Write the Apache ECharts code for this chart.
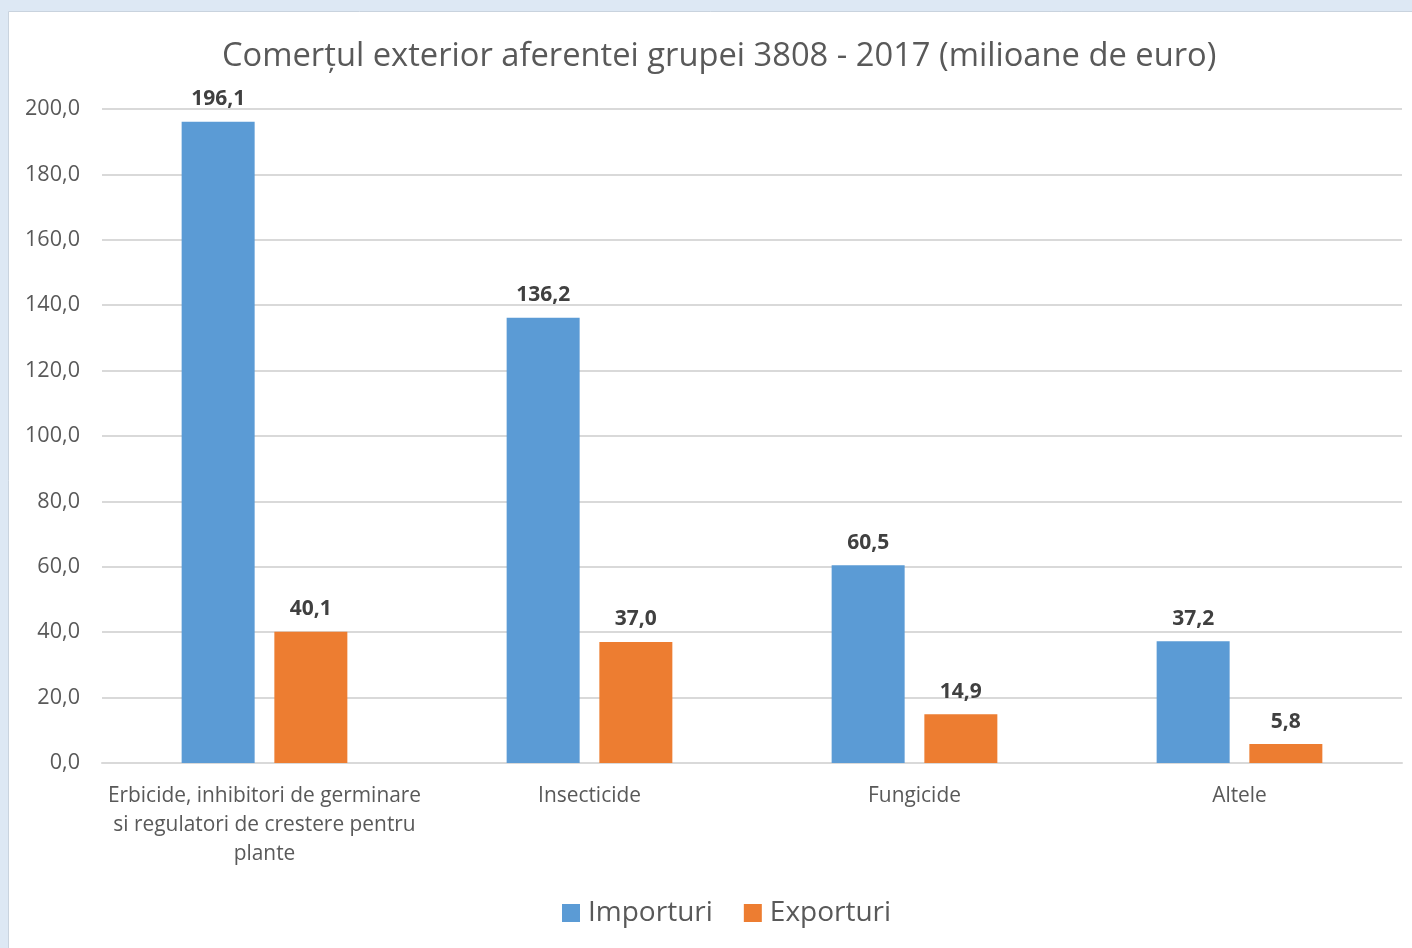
<!DOCTYPE html>
<html>
<head>
<meta charset="utf-8">
<style>
  html, body { margin: 0; padding: 0; background: #dde8f4; }
  #chart { width: 1412px; height: 948px; }
</style>
<script src="https://cdn.jsdelivr.net/npm/echarts@6/dist/echarts.min.js"></script>
</head>
<body>
<div id="chart"></div>
<script>
// chart data
var categories = [
  "Erbicide, inhibitori de germinare\nsi regulatori de crestere pentru\nplante",
  "Insecticide",
  "Fungicide",
  "Altele"
];
var importuri = [196.1, 136.2, 60.5, 37.2];
var exporturi = [40.1, 37.0, 14.9, 5.8];
var seriesNames = ["Importuri", "Exporturi"];
var titleText = "Comerțul exterior aferentei grupei 3808 - 2017 (milioane de euro)";

var fontFam = "'Open Sans', sans-serif";
var textColor = "#595959";

function fmt(v) {
  return Number(v).toFixed(1).replace(".", ",");
}

var chartDom = document.getElementById("chart");
var myChart = echarts.init(chartDom);

var option = {
  backgroundColor: "#dde8f4",
  textStyle: { fontFamily: fontFam },
  graphic: [
    {
      // white chart panel
      type: "rect",
      left: 8,
      top: 11,
      z: -10,
      shape: { width: 1420, height: 950 },
      style: { fill: "#ffffff", stroke: "#c9d3de", lineWidth: 1 }
    }
  ],
  title: {
    text: titleText,
    left: 222,
    top: 40,
    padding: 0,
    textStyle: {
      fontFamily: fontFam,
      fontSize: 32.7,
      fontWeight: "normal",
      color: textColor
    }
  },
  legend: {
    data: seriesNames,
    bottom: 16,
    left: 557,
    itemWidth: 18,
    itemHeight: 18,
    itemGap: 31,
    icon: "rect",
    textStyle: { fontFamily: fontFam, fontSize: 28, color: textColor, padding: [0, 0, 0, 3] }
  },
  grid: {
    left: 102,
    right: 10,
    top: 109,
    bottom: 185,
    containLabel: false
  },
  xAxis: {
    type: "category",
    data: categories,
    axisLine: { lineStyle: { color: "#d9d9d9", width: 2 } },
    axisTick: { show: false },
    axisLabel: {
      interval: 0,
      margin: 19,
      fontFamily: fontFam,
      fontSize: 20.9,
      lineHeight: 29,
      color: textColor
    }
  },
  yAxis: {
    type: "value",
    min: 0,
    max: 200,
    interval: 20,
    axisLine: { show: false },
    axisTick: { show: false },
    splitLine: { lineStyle: { color: "#d9d9d9", width: 2 } },
    axisLabel: {
      formatter: fmt,
      margin: 22,
      fontFamily: fontFam,
      fontSize: 21.6,
      color: textColor
    }
  },
  series: [
    {
      name: seriesNames[0],
      type: "bar",
      data: importuri,
      barWidth: 73,
      barGap: "27%",
      itemStyle: { color: "#5b9bd5" },
      label: {
        show: true,
        position: "top",
        distance: 12,
        formatter: function (p) { return fmt(p.value); },
        fontFamily: fontFam,
        fontSize: 21,
        fontWeight: "bold",
        color: "#404040"
      }
    },
    {
      name: seriesNames[1],
      type: "bar",
      data: exporturi,
      barWidth: 73,
      barGap: "27%",
      itemStyle: { color: "#ed7d31" },
      label: {
        show: true,
        position: "top",
        distance: 12,
        formatter: function (p) { return fmt(p.value); },
        fontFamily: fontFam,
        fontSize: 21,
        fontWeight: "bold",
        color: "#404040"
      }
    }
  ]
};

option && myChart.setOption(option);
</script>
</body>
</html>
